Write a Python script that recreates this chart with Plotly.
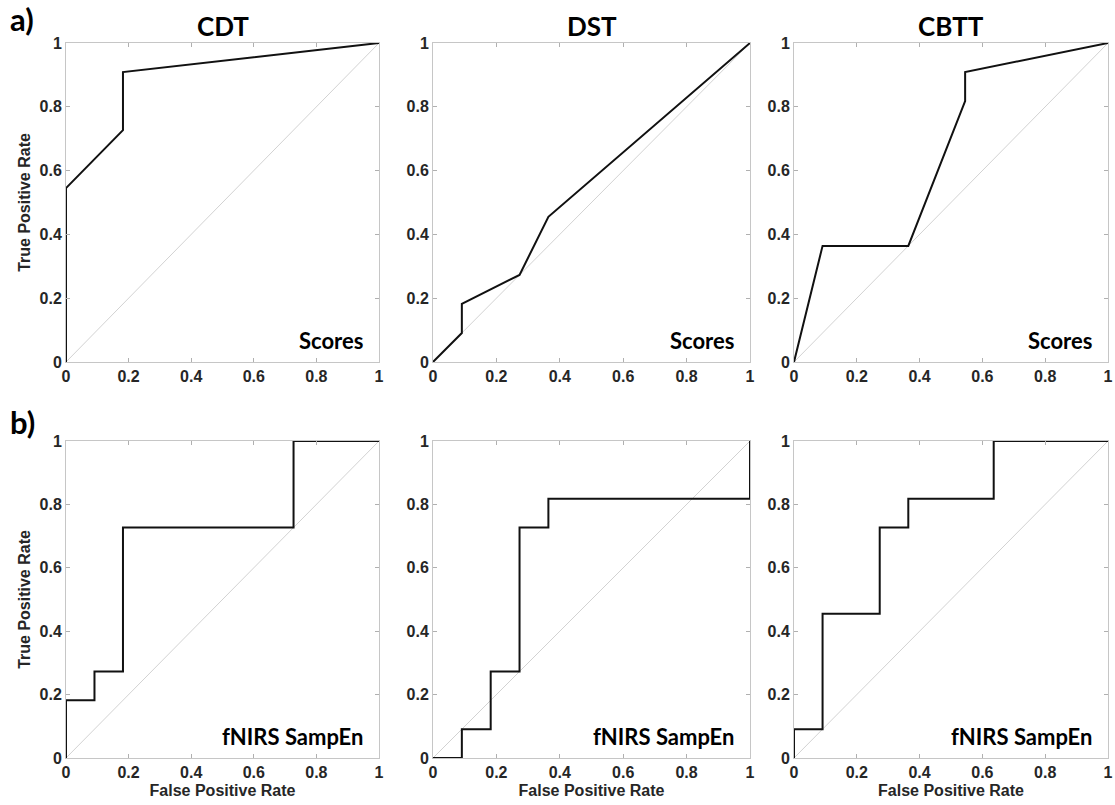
import plotly.graph_objects as go

W, H = 1115, 805

# ---------------- data (FPR / TPR pairs) ----------------
panel_titles = ["CDT", "DST", "CBTT"]
row_labels = ["Scores", "fNIRS SampEn"]
tick_vals = [0, 0.2, 0.4, 0.6, 0.8, 1]
tick_text = ["0", "0.2", "0.4", "0.6", "0.8", "1"]

cdt_scores_fpr = [0, 0, 0.182, 0.182, 1]
cdt_scores_tpr = [0, 0.545, 0.727, 0.909, 1]

dst_scores_fpr = [0, 0.091, 0.091, 0.273, 0.364, 1]
dst_scores_tpr = [0, 0.091, 0.182, 0.273, 0.455, 1]

cbtt_scores_fpr = [0, 0.091, 0.364, 0.545, 0.545, 1]
cbtt_scores_tpr = [0, 0.364, 0.364, 0.818, 0.909, 1]

cdt_fnirs_fpr = [0, 0, 0.091, 0.091, 0.182, 0.182, 0.727, 0.727, 1]
cdt_fnirs_tpr = [0, 0.182, 0.182, 0.273, 0.273, 0.727, 0.727, 1, 1]

dst_fnirs_fpr = [0, 0.091, 0.091, 0.182, 0.182, 0.273, 0.273, 0.364, 0.364, 1, 1]
dst_fnirs_tpr = [0, 0, 0.091, 0.091, 0.273, 0.273, 0.727, 0.727, 0.818, 0.818, 1]

cbtt_fnirs_fpr = [0, 0, 0.091, 0.091, 0.273, 0.273, 0.364, 0.364, 0.636, 0.636, 1]
cbtt_fnirs_tpr = [0, 0.091, 0.091, 0.455, 0.455, 0.727, 0.727, 0.818, 0.818, 1, 1]

chance_line = [0, 1]

curves = [
    (cdt_scores_fpr, cdt_scores_tpr),
    (dst_scores_fpr, dst_scores_tpr),
    (cbtt_scores_fpr, cbtt_scores_tpr),
    (cdt_fnirs_fpr, cdt_fnirs_tpr),
    (dst_fnirs_fpr, dst_fnirs_tpr),
    (cbtt_fnirs_fpr, cbtt_fnirs_tpr),
]

# ---------------- layout (reference pixel geometry) ----------------
col_px = [(66, 379), (433, 750), (794, 1108)]
row_px = [(43, 362), (441, 758)]

def px_x(p):
    return min(1.0, max(0.0, p / W))

def px_y(p):
    return min(1.0, max(0.0, 1 - p / H))

fig = go.Figure()

ARIAL = "Liberation Sans, Arial, sans-serif"
TICKFONT = dict(family=ARIAL, size=16, color="#262626", weight="bold")
TITLEFONT = dict(family=ARIAL, size=16, color="#262626", weight="bold")
CAL = "Lato, Open Sans, sans-serif"
FRAME = "#c6c6c6"

layout_axes = {}
for i in range(6):
    r, c = divmod(i, 3)
    n = i + 1
    xa = "x" if n == 1 else f"x{n}"
    ya = "y" if n == 1 else f"y{n}"
    fpr, tpr = curves[i]
    fig.add_trace(go.Scatter(x=chance_line, y=chance_line, mode="lines",
                             line=dict(color="#d2d2d2", width=1),
                             xaxis=xa, yaxis=ya, showlegend=False, hoverinfo="skip"))
    fig.add_trace(go.Scatter(x=fpr, y=tpr, mode="lines",
                             line=dict(color="#111111", width=2),
                             xaxis=xa, yaxis=ya, showlegend=False))
    x0, x1 = col_px[c]
    y0, y1 = row_px[r]
    xkey = "xaxis" if n == 1 else f"xaxis{n}"
    ykey = "yaxis" if n == 1 else f"yaxis{n}"
    layout_axes[xkey] = dict(
        domain=[px_x(x0), px_x(x1)], range=[0, 1], anchor=ya, automargin=False,
        tickvals=tick_vals, ticktext=tick_text, tickfont=TICKFONT,
        ticks="inside", ticklen=4, tickcolor="#b0b0b0", showgrid=False, zeroline=False,
        showline=True, linecolor=FRAME, linewidth=1, mirror="ticks",
        title=dict(text="False Positive Rate" if r == 1 else "", font=TITLEFONT, standoff=4),
    )
    layout_axes[ykey] = dict(
        domain=[px_y(y1), px_y(y0)], range=[0, 1], anchor=xa, automargin=False,
        tickvals=tick_vals, ticktext=tick_text, tickfont=TICKFONT,
        ticks="inside", ticklen=4, tickcolor="#b0b0b0", showgrid=False, zeroline=False,
        showline=True, linecolor=FRAME, linewidth=1, mirror="ticks",
        title=dict(text="True Positive Rate" if c == 0 else "", font=TITLEFONT, standoff=4),
    )

annotations = []
for c, t in enumerate(panel_titles):
    x0, x1 = col_px[c]
    annotations.append(dict(x=px_x((x0 + x1) / 2), y=px_y(26), xref="paper", yref="paper",
                            text=f"<b>{t}</b>", showarrow=False,
                            font=dict(family=CAL, size=26, color="black"),
                            xanchor="center", yanchor="middle"))
for r, lab in enumerate(row_labels):
    for c in range(3):
        x0, x1 = col_px[c]
        y0, y1 = row_px[r]
        annotations.append(dict(x=px_x(x1 - 14), y=px_y(y1 - 22), xref="paper", yref="paper",
                                text=f"<b>{lab}</b>", showarrow=False,
                                font=dict(family=CAL, size=22, color="black"),
                                xanchor="right", yanchor="middle"))
annotations.append(dict(x=px_x(8), y=px_y(19), xref="paper", yref="paper", text="<b>a)</b>",
                        showarrow=False, font=dict(family=CAL, size=31, color="black"),
                        xanchor="left", yanchor="middle"))
annotations.append(dict(x=px_x(8), y=px_y(422), xref="paper", yref="paper", text="<b>b)</b>",
                        showarrow=False, font=dict(family=CAL, size=31, color="black"),
                        xanchor="left", yanchor="middle"))

fig.update_layout(
    width=W, height=H, autosize=False,
    margin=dict(l=0, r=0, t=0, b=0, autoexpand=False),
    paper_bgcolor="white", plot_bgcolor="white",
    annotations=annotations,
    **layout_axes,
)

# place the figure at the top-left corner of the page (no default body margin)
fig.write_html("out.html", config={"displayModeBar": False},
               post_script="document.body.style.margin='0';document.body.style.overflow='hidden';")
